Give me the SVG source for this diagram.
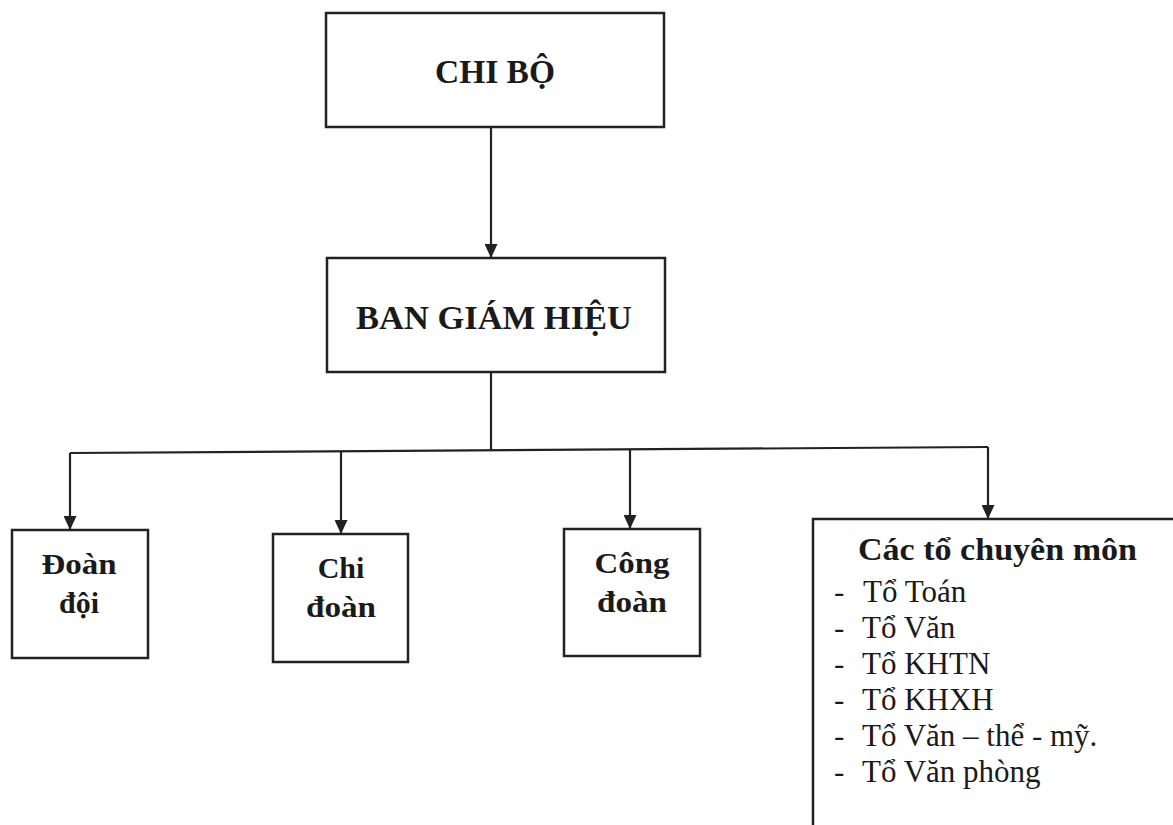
<svg xmlns="http://www.w3.org/2000/svg" width="1173" height="825" viewBox="0 0 1173 825">
<defs>
<style>
.box{fill:none;stroke:#222;stroke-width:2.5}
.ln{fill:none;stroke:#222;stroke-width:2.2}
.b{font-weight:bold}
</style>
<marker id="a2" viewBox="0 0 14 13" refX="14" refY="6.5" markerWidth="14" markerHeight="13" markerUnits="userSpaceOnUse" orient="auto"><path d="M0,0 L14,6.5 L0,13 z" fill="#222"/></marker>
</defs>
<rect width="1173" height="825" fill="#fff"/>
<g id="connectors">
<path class="ln" d="M491,127 V258" marker-end="url(#a2)"/>
<path class="ln" d="M491,372 V450"/>
<path class="ln" d="M70,453 L988,447"/>
<path class="ln" d="M70,453 V530" marker-end="url(#a2)"/>
<path class="ln" d="M341,451 V534" marker-end="url(#a2)"/>
<path class="ln" d="M630,449 V529" marker-end="url(#a2)"/>
<path class="ln" d="M988,447 V519" marker-end="url(#a2)"/>
</g>
<g font-family="Liberation Serif, Times New Roman, DejaVu Serif, serif" fill="#1a1a1a">
<g id="chibo">
<rect class="box" x="326" y="13" width="338" height="114"/>
<text class="b" x="495" y="83" font-size="33" text-anchor="middle" textLength="120" lengthAdjust="spacingAndGlyphs">CHI BỘ</text>
</g>
<g id="bgh">
<rect class="box" x="327" y="258" width="338" height="114"/>
<text class="b" x="494" y="329" font-size="33" text-anchor="middle" textLength="276" lengthAdjust="spacingAndGlyphs">BAN GIÁM HIỆU</text>
</g>
<g id="doandoi">
<rect class="box" x="12" y="530" width="136" height="128"/>
<text class="b" x="79" y="574" font-size="30" text-anchor="middle" textLength="75" lengthAdjust="spacingAndGlyphs">Đoàn</text>
<text class="b" x="79" y="613" font-size="30" text-anchor="middle">đội</text>
</g>
<g id="chidoan">
<rect class="box" x="273" y="534" width="135" height="128"/>
<text class="b" x="341" y="578" font-size="30" text-anchor="middle">Chi</text>
<text class="b" x="341" y="617" font-size="30" text-anchor="middle" textLength="70" lengthAdjust="spacingAndGlyphs">đoàn</text>
</g>
<g id="congdoan">
<rect class="box" x="564" y="529" width="136" height="127"/>
<text class="b" x="632" y="573" font-size="30" text-anchor="middle" textLength="75" lengthAdjust="spacingAndGlyphs">Công</text>
<text class="b" x="632" y="612" font-size="30" text-anchor="middle" textLength="70" lengthAdjust="spacingAndGlyphs">đoàn</text>
</g>
<g id="toCM">
<path class="box" d="M1173,519 H813 V825"/>
<text class="b" x="858" y="560" font-size="32" textLength="279" lengthAdjust="spacingAndGlyphs">Các tổ chuyên môn</text>
<g font-size="31">
<text x="834" y="602">-</text><text x="863" y="602">Tổ Toán</text>
<text x="834" y="638">-</text><text x="862" y="638">Tổ Văn</text>
<text x="834" y="674">-</text><text x="862" y="674">Tổ KHTN</text>
<text x="834" y="710">-</text><text x="862" y="710">Tổ KHXH</text>
<text x="834" y="746">-</text><text x="862" y="746">Tổ Văn – thể - mỹ.</text>
<text x="834" y="782">-</text><text x="862" y="782">Tổ Văn phòng</text>
</g>
</g>
</g>
</svg>
